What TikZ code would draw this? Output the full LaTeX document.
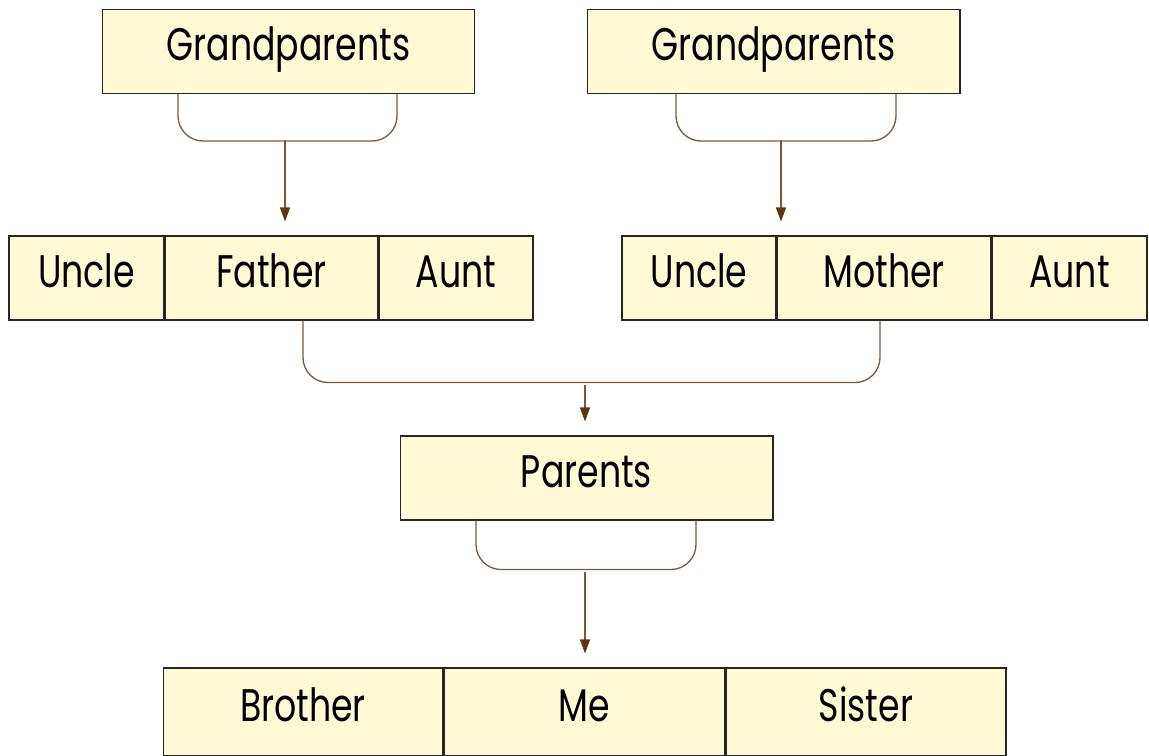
\documentclass[tikz,border=0pt]{standalone}
\usepackage{fontspec}
\setmainfont{Poppins}[FakeStretch=0.76]
\usetikzlibrary{positioning,arrows.meta}
\definecolor{famfill}{HTML}{FFFAD6}
\definecolor{famline}{HTML}{7A5A3A}
\definecolor{famtip}{HTML}{5C3812}

\begin{document}
\begin{tikzpicture}[x=0.02cm, y=-0.02cm, >={Triangle[length=0.28cm, width=0.2cm]},
                    member/.style={draw=black!85, fill=famfill, line width=0.6pt,
                                   inner sep=0pt, minimum height=1.68cm,
                                   text height=0.7cm, text depth=0.32cm,
                                   font=\fontsize{26}{30}\selectfont},
                    link/.style={famline, line width=0.75pt, rounded corners=0.5cm},
                    descend/.style={famline, line width=0.75pt, ->, >={Triangle[length=0.28cm, width=0.2cm, color=famtip]},
                                    shorten >=0.28cm}]

  \useasboundingbox (0,0) rectangle (1149,756);

  %% grandparents on both sides
  \node[member, minimum width=7.46cm] (gpL) at (288.5,51.5) {Grandparents};
  \node[member, minimum width=7.46cm] (gpR) at (773.5,51.5) {Grandparents};

  %% father's side
  \node[member, minimum width=4.26cm] (father) at (271.5,278) {Father};
  \node[member, minimum width=3.1cm, left=0pt of father] (uncleL) {Uncle};
  \node[member, minimum width=3.08cm, right=0pt of father] (auntL) {Aunt};

  %% mother's side
  \node[member, minimum width=4.28cm] (mother) at (884,278) {Mother};
  \node[member, minimum width=3.08cm, left=0pt of mother] (uncleR) {Uncle};
  \node[member, minimum width=3.1cm, right=0pt of mother] (auntR) {Aunt};

  %% parents and children
  \node[member, minimum width=7.46cm] (parents) at (586.5,478) {Parents};
  \node[member, minimum width=5.62cm, minimum height=1.76cm] (me) at (584.5,712) {Me};
  \node[member, minimum width=5.6cm, minimum height=1.76cm, left=0pt of me] (brother) {Brother};
  \node[member, minimum width=5.6cm, minimum height=1.76cm, right=0pt of me] (sister) {Sister};

  %% brackets and arrows
  \draw[link] ([xshift=-2.21cm]gpL.south) -- ++(0,47) -| ([xshift=2.17cm]gpL.south);
  \coordinate (jL) at (285,140);
  \draw[descend] (jL) -- (jL |- father.north);

  \draw[link] ([xshift=-1.95cm]gpR.south) -- ++(0,47) -| ([xshift=2.45cm]gpR.south);
  \coordinate (jR) at (781,140);
  \draw[descend] (jR) -- (jR |- mother.north);

  \draw[link] ([xshift=0.63cm]father.south) -- ++(0,62) -| ([xshift=-0.08cm]mother.south);
  \coordinate (jM) at (585,382);
  \draw[descend, shorten <=0.06cm] (jM) -- (jM |- parents.north);

  \draw[link] ([xshift=-2.21cm]parents.south) -- ++(0,49) -| ([xshift=2.19cm]parents.south);
  \coordinate (jP) at (585,569);
  \draw[descend, shorten <=0.06cm] (jP) -- (jP |- me.north);

\end{tikzpicture}
\end{document}
